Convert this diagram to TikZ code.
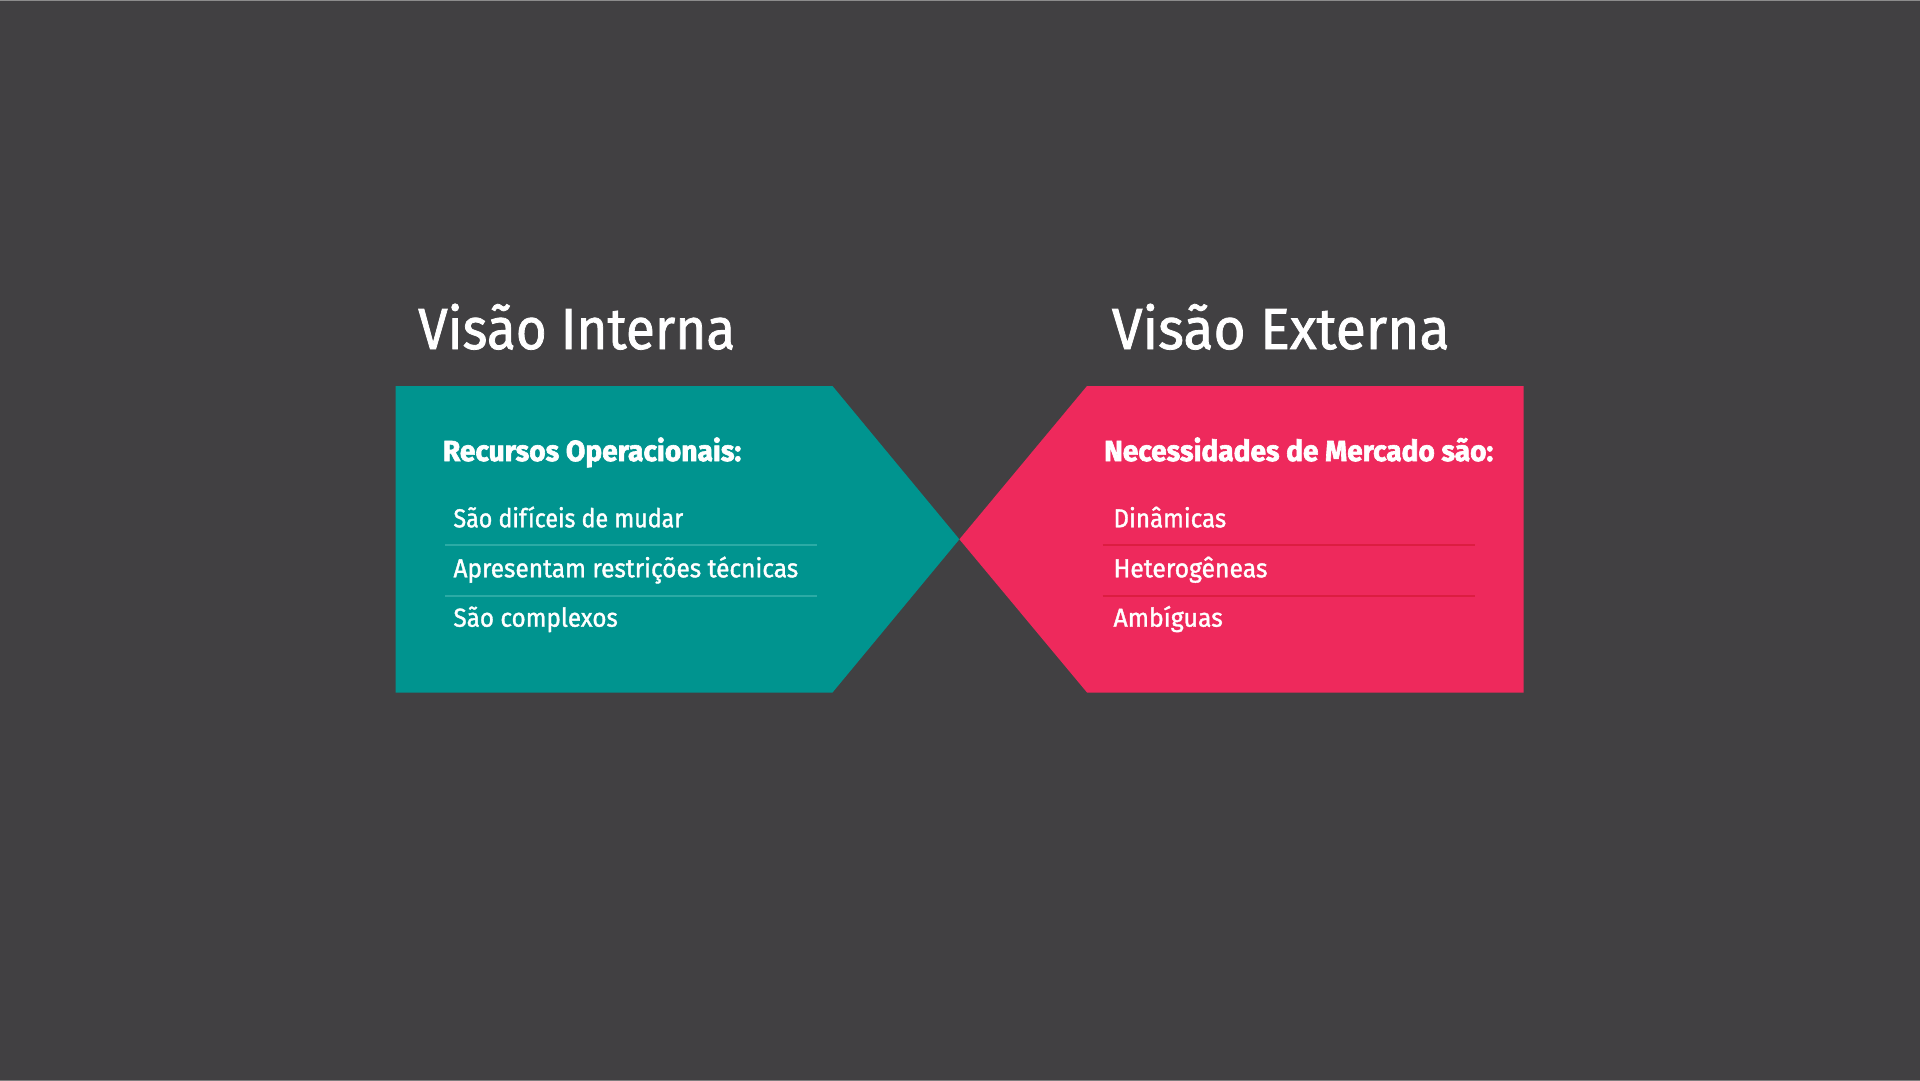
\documentclass[tikz,border=0pt]{standalone}
\usepackage{fontspec}
\setmainfont{Fira Sans}
\newfontfamily\heavyfont{Fira Sans}[BoldFeatures={FakeBold=2.2}]
\newfontfamily\midfont{Fira Sans}[FakeBold=1.4]
% set a text to a given width (in pt), keeping its natural height
\newcommand\fitw[2]{\resizebox{#1pt}{\height}{#2}}

\definecolor{bgcol}{HTML}{414042}
\definecolor{edgecol}{HTML}{8C8C8C}
\definecolor{tealcol}{HTML}{00948F}
\definecolor{teallight}{HTML}{2BABA5}
\definecolor{pinkcol}{HTML}{EE295C}
\definecolor{pinkdark}{HTML}{DC1D41}

\tikzset{
  title/.style={inner sep=0pt, anchor=base west, text=white,
    font=\midfont\fontsize{58}{60}\selectfont},
  header/.style={inner sep=0pt, anchor=base west, text=white,
    font=\heavyfont\bfseries\fontsize{29}{31}\selectfont},
  item/.style={inner sep=0pt, anchor=base west, text=white,
    font=\midfont\fontsize{26}{28}\selectfont},
  tealsep/.style={draw=teallight, line width=1.6pt},
  pinksep/.style={draw=pinkdark, line width=1.6pt},
}

\begin{document}
\begin{tikzpicture}[x=1pt, y=-1pt]
  % canvas with thin light edges top and bottom
  \useasboundingbox (0,0) rectangle (1920,1081);
  \fill[bgcol] (0,0) rectangle (1920,1081);
  \fill[edgecol] (0,0) rectangle (1920,1.2);
  \fill[edgecol!80!bgcol] (0,1080) rectangle (1920,1081);

  % the two arrow-shaped panels meeting at one point
  \coordinate (tip) at (959.4,539.3);
  \fill[tealcol] (395.7,386) -- (832.5,386) -- (tip) -- (832.5,692.5)
    -- (395.7,692.5) -- cycle;
  \fill[pinkcol] (1087,386) -- (1523.7,386) -- (1523.7,692.5)
    -- (1087,692.5) -- (tip) -- cycle;

  % titles
  \node[title] (tint) at (418,349) {\fitw{317}{Visão Interna}};
  \node[title] (text) at (1111.7,349) {\fitw{337.6}{Visão Externa}};

  % left panel
  \node[header] (hint) at (442.7,461) {\fitw{298.3}{Recursos Operacionais:}};
  \node[item] (i1) at (453.3,527.3) {\fitw{229.7}{São difíceis de mudar}};
  \node[item] (i2) at (453.3,577.3) {\fitw{344.7}{Apresentam restrições técnicas}};
  \node[item] (i3) at (453.3,626.7) {\fitw{164.3}{São complexos}};
  \coordinate (ls1a) at (445,545);   \coordinate (ls1b) at (816.7,545);
  \coordinate (ls2a) at (445,596);   \coordinate (ls2b) at (816.7,596);
  \draw[tealsep] (ls1a) -- (ls1b);
  \draw[tealsep] (ls2a) -- (ls2b);

  % right panel
  \node[header] (hext) at (1104,461) {\fitw{389}{Necessidades de Mercado são:}};
  \node[item] (e1) at (1113.3,527.3) {\fitw{112.7}{Dinâmicas}};
  \node[item] (e2) at (1113.3,577.3) {\fitw{154}{Heterogêneas}};
  \node[item] (e3) at (1113.3,626.7) {\fitw{109.3}{Ambíguas}};
  \coordinate (rs1a) at (1102.7,545); \coordinate (rs1b) at (1475,545);
  \coordinate (rs2a) at (1102.7,596); \coordinate (rs2b) at (1475,596);
  \draw[pinksep] (rs1a) -- (rs1b);
  \draw[pinksep] (rs2a) -- (rs2b);
\end{tikzpicture}
\end{document}
